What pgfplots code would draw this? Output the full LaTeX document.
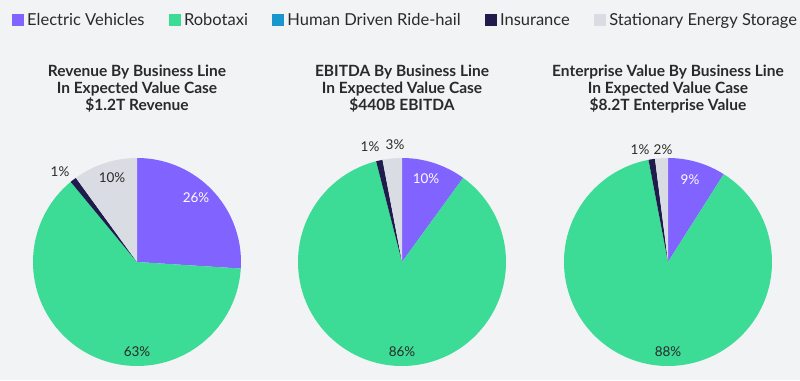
\documentclass[border=0pt]{standalone}
\usepackage{pgfplots}
\pgfplotsset{compat=1.18}
\usepackage{fontspec}
\setmainfont{Lato}
\definecolor{ev}{HTML}{8163FF}
\definecolor{robo}{HTML}{3CDB96}
\definecolor{hdr}{HTML}{1A96CF}
\definecolor{ins}{HTML}{1F1B4D}
\definecolor{ses}{HTML}{DADCE3}
\definecolor{bg}{HTML}{F2F3F5}
\definecolor{txt}{HTML}{2A2A2A}
% cx, cy, from (cumulative %), to (cumulative %), colour
\newcommand{\slice}[5]{%
  \addplot[fill=#5, draw=none, forget plot] coordinates {(#1,#2)}
    -- ++({90-3.6*#3}:104pt) arc[start angle={90-3.6*#3}, end angle={90-3.6*#4}, radius=104pt] -- cycle;}
\begin{document}
\begin{tikzpicture}
\fill[bg] (0,0) rectangle (800pt,380pt);
\begin{axis}[
  at={(0,0)}, anchor=south west,
  width=800pt, height=380pt, scale only axis,
  xmin=0, xmax=800, ymin=0, ymax=380,
  hide axis, clip=false,
  legend image code/.code={\fill[#1, draw=none] (0pt,-6pt) rectangle (12pt,6pt);},
  legend columns=5,
  legend style={draw=none, fill=none, at={(axis cs:12,360)}, anchor=west,
    font=\fontsize{16.5}{18}\selectfont, text=txt, inner sep=0pt,
    /tikz/every even column/.append style={column sep=22.5pt},
    /tikz/every odd column/.append style={column sep=1pt}},
]
\addlegendimage{fill=ev, draw=none}\addlegendentry{Electric Vehicles}
\addlegendimage{fill=robo, draw=none}\addlegendentry{Robotaxi}
\addlegendimage{fill=hdr, draw=none}\addlegendentry{Human Driven Ride-hail}
\addlegendimage{fill=ins, draw=none}\addlegendentry{Insurance}
\addlegendimage{fill=ses, draw=none}\addlegendentry{Stationary Energy Storage}
% Pie 1: Revenue  EV 26, Robotaxi 63, Ride-hail 0, Insurance 1, Storage 10
\slice{137}{118}{0}{26}{ev}
\slice{137}{118}{26}{89}{robo}
\slice{137}{118}{89}{90}{ins}
\slice{137}{118}{90}{100}{ses}
% Pie 2: EBITDA  EV 10, Robotaxi 86, Ride-hail 0, Insurance 1, Storage 3
\slice{402}{118}{0}{10}{ev}
\slice{402}{118}{10}{96}{robo}
\slice{402}{118}{96}{97}{ins}
\slice{402}{118}{97}{100}{ses}
% Pie 3: Enterprise value  EV 9, Robotaxi 88, Ride-hail 0, Insurance 1, Storage 2
\slice{668}{118}{0}{9}{ev}
\slice{668}{118}{9}{97}{robo}
\slice{668}{118}{97}{98}{ins}
\slice{668}{118}{98}{100}{ses}
% titles
\tikzset{ttl/.style={align=center, font=\bfseries\fontsize{15.5}{17}\selectfont, text=txt},
  pl/.style={font=\fontsize{13.5}{14}\selectfont, text=txt},
  plw/.style={font=\fontsize{13.5}{14}\selectfont, text=white}}
\node[ttl] at (axis cs:137,291) {Revenue By Business Line\\In Expected Value Case\\\$1.2T Revenue};
\node[ttl] at (axis cs:402,291) {EBITDA By Business Line\\In Expected Value Case\\\$440B EBITDA};
\node[ttl] at (axis cs:668,291) {Enterprise Value By Business Line\\In Expected Value Case\\\$8.2T Enterprise Value};
% labels
\node[plw] at (axis cs:196,182) {26\%};
\node[pl] at (axis cs:137,28) {63\%};
\node[pl] at (axis cs:60,208) {1\%};
\node[pl] at (axis cs:112,202) {10\%};
\node[plw] at (axis cs:426,201) {10\%};
\node[pl] at (axis cs:402,28) {86\%};
\node[pl] at (axis cs:370,233) {1\%};
\node[pl] at (axis cs:395,235) {3\%};
\node[plw] at (axis cs:690,200) {9\%};
\node[pl] at (axis cs:668,28) {88\%};
\node[pl] at (axis cs:640,230) {1\%};
\node[pl] at (axis cs:663,230) {2\%};
\end{axis}
\pgfresetboundingbox
\path[use as bounding box] (0,0) rectangle (800pt,380pt);
\end{tikzpicture}
\end{document}
